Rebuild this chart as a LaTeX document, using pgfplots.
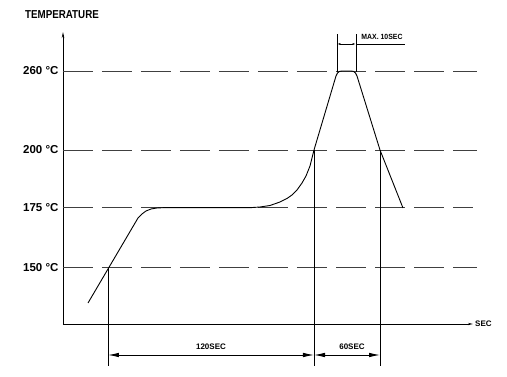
\documentclass[border=0pt]{standalone}
\usepackage{pgfplots}
\pgfplotsset{compat=1.18}
\usepackage{fontspec}
\setmainfont{Liberation Sans}
\usetikzlibrary{arrows.meta}
\begin{document}
\begin{tikzpicture}
\begin{axis}[
  x=1pt, y=1pt,
  xmin=0, xmax=410, ymin=0, ymax=292,
  axis lines=left,
  axis line style={line width=0.9pt},
  x axis line style={-{Stealth[length=5pt,width=2.2pt]}},
  y axis line style={-{Stealth[length=6pt,width=2.5pt]}},
  xtick=\empty,
  ytick={56.3,116.3,174,253},
  yticklabels={150 °C,175 °C,200 °C,260 °C},
  yticklabel style={font=\fontsize{11.5}{12}\selectfont\bfseries, xshift=-1pt},
  major tick length=0pt,
  clip=false,
]
% bounding box matching reference margins
\path (axis cs:-63,-53) rectangle (axis cs:444,324);
% dashed reference lines
\addplot[gray!50!black, line width=0.9pt, dash pattern=on 30pt off 9pt] coordinates {(0,253) (414,253)};
\addplot[gray!50!black, line width=0.9pt, dash pattern=on 30pt off 9pt] coordinates {(0,174) (414,174)};
\addplot[gray!50!black, line width=0.9pt, dash pattern=on 30pt off 9pt] coordinates {(0,116.3) (410,116.3)};
\addplot[gray!50!black, line width=0.9pt, dash pattern=on 30pt off 9pt] coordinates {(0,56.3) (414,56.3)};
% reflow profile
\addplot[black, line width=0.9pt] coordinates {
 (25,21) (75,106) (79,110) (83,113) (88,115) (94,116) (100,116.3)
 (187,116.3) (197,117) (207,118.5) (217,122) (224,125.5) (229,129) (234,134)
 (239,141) (243,148) (247,158) (251,174)
 (273,248) (274.5,251) (276.5,252.6) (279,253) (288,253) (290.5,252.6) (292.5,251) (294,248)
 (317,174) (340,116)
};
% vertical dimension lines
\addplot[black, line width=0.9pt] coordinates {(45,56.3) (45,-42)};
\addplot[black, line width=0.9pt] coordinates {(251,174) (251,-42)};
\addplot[black, line width=0.9pt] coordinates {(317,174) (317,-42)};
% dimension arrows
\addplot[black, line width=0.9pt, {Latex[length=11pt,width=4.5pt]}-{Latex[length=11pt,width=4.5pt]}] coordinates {(45,-31) (251,-31)};
\addplot[black, line width=0.9pt, {Latex[length=11pt,width=4.5pt]}-{Latex[length=11pt,width=4.5pt]}] coordinates {(251,-31) (317,-31)};
\node[font=\fontsize{8}{9}\selectfont\bfseries] at (axis cs:148,-23) {120SEC};
\node[font=\fontsize{8}{9}\selectfont\bfseries] at (axis cs:289,-23) {60SEC};
% peak time marks
\addplot[black, line width=0.7pt] coordinates {(274,252) (274,290)};
\addplot[black, line width=0.7pt] coordinates {(293,252) (293,290)};
\addplot[black, line width=0.7pt, {Latex[length=3pt,width=2pt]}-{Latex[length=3pt,width=2pt]}] coordinates {(274.3,280) (292.7,280)};
\addplot[black, line width=0.7pt] coordinates {(293,280) (342,280)};
\node[font=\fontsize{7.5}{8}\selectfont\bfseries, inner sep=0pt, xscale=0.92] at (axis cs:319,287) {MAX. 10SEC};
% axis labels
\node[font=\fontsize{8}{9}\selectfont\bfseries, anchor=west, inner sep=0pt] at (axis cs:412,0) {SEC};
\node[font=\fontsize{11.5}{12}\selectfont\bfseries, inner sep=0pt, xscale=0.85] at (axis cs:-1,309) {TEMPERATURE};
\end{axis}
\end{tikzpicture}
\end{document}
